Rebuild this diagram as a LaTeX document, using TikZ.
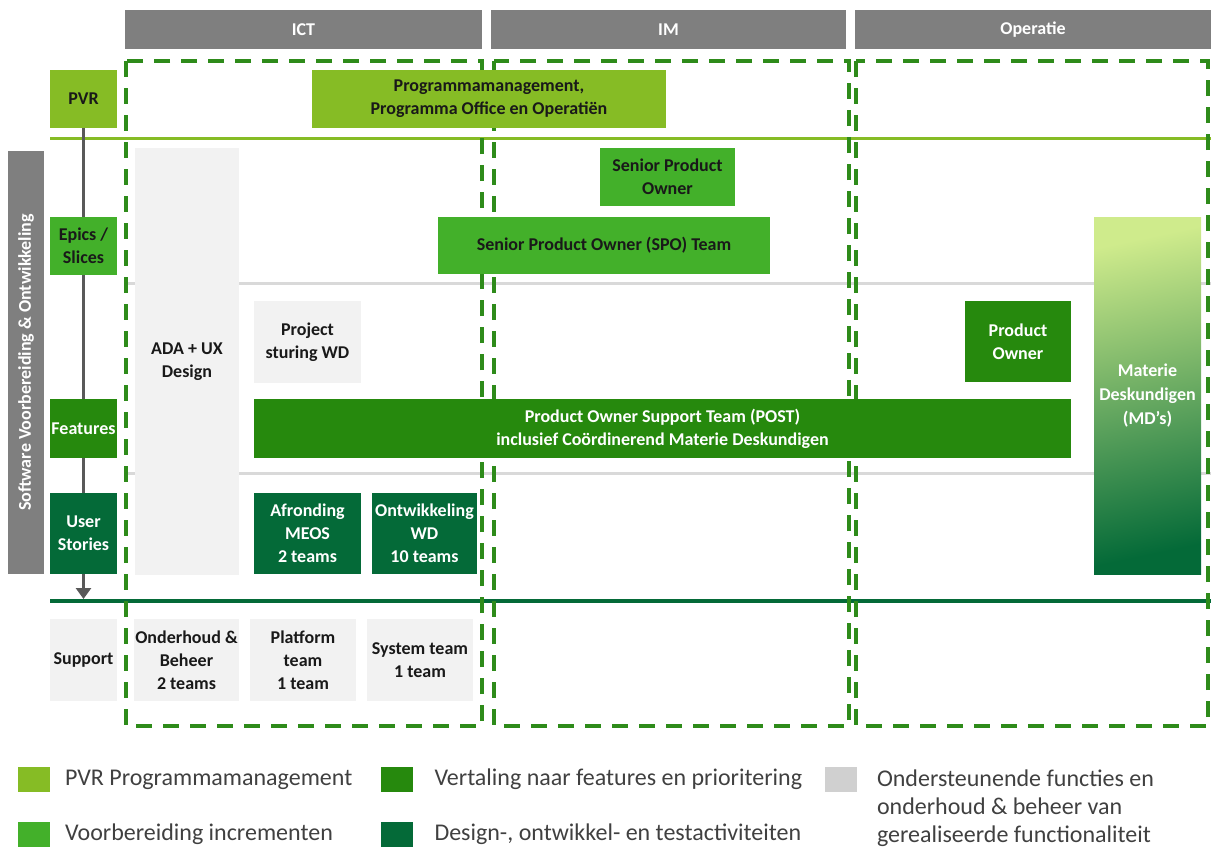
\documentclass[tikz,border=0pt]{standalone}
\usepackage{fontspec}
\setmainfont{Carlito}
\usepackage{xcolor}
\usepackage{tikz}
\usetikzlibrary{shapes,arrows.meta,positioning}

\definecolor{pvrgreen}{HTML}{86BC25}
\definecolor{prepgreen}{HTML}{43B02A}
\definecolor{featgreen}{HTML}{26890D}
\definecolor{devgreen}{HTML}{046A38}
\definecolor{headgray}{HTML}{7F7F7F}
\definecolor{boxgray}{HTML}{F2F2F2}
\definecolor{keygray}{HTML}{D0D0D0}
\definecolor{linegray}{HTML}{D9D9D9}
\definecolor{arrowgray}{HTML}{595959}
\definecolor{dashgreen}{HTML}{2E8B1A}
\definecolor{mdlight}{HTML}{CFEB8C}
\definecolor{mdmid}{HTML}{8CC47A}

\begin{document}
\begin{tikzpicture}[%
      x=1pt, y=-1pt,
      every node/.style={inner sep=0pt, outer sep=0pt, align=center},
      blok/.style={font=\bfseries\fontsize{18}{23}\selectfont, text=black!90},
      kop/.style={blok, fill=headgray, text=white, minimum height=39pt},
      rij/.style={blok, minimum width=67pt},
      grijs/.style={blok, fill=boxgray},
      wit/.style={blok, text=white},
      kader/.style={dashgreen, line width=3.5pt, dash pattern=on 16pt off 11pt},
      pijl/.style={arrowgray, line width=3pt, -{Triangle[length=11pt,width=15pt]}},
      sleutel/.style={minimum width=32pt, minimum height=25pt},
      uitleg/.style={font=\fontsize{24}{28}\selectfont, text=black!75}]
      \useasboundingbox (0,0) rectangle (1211,847);

      % column headers
      \node[kop, minimum width=357pt] (ict) at (303.5,29.5) {ICT};
      \node[kop, minimum width=355pt] (im) at (668.5,29.5) {IM};
      \node[kop, minimum width=356pt] (ops) at (1033,29.5) {Operatie};

      % separators
      \draw[pvrgreen, line width=3pt] (50,138) -- (1211,138);
      \draw[linegray, line width=3pt] (126,283) -- (1211,283);
      \draw[linegray, line width=3pt] (126,473) -- (1211,473);
      \draw[devgreen, line width=3.5pt] (50,601) -- (1211,601);

      % organisation frames
      \draw[kader] (126,61) rectangle (482,726);
      \draw[kader] (494,61) rectangle (849,726);
      \draw[kader] (856,61) rectangle (1208,726);

      % levels
      \node[kop, rotate=90, minimum width=423pt, minimum height=36pt] (zijbalk) at (26,362.5)
        {Software Voorbereiding \& Ontwikkeling};
      \node[rij, fill=pvrgreen, minimum height=58pt] (pvr) at (83.5,99) {PVR};
      \coordinate (pijleind) at (83.5,599);
      \draw[pijl] (pvr.south) -- (pijleind);
      \node[rij, fill=prepgreen, minimum height=58pt] (epics) at (83.5,246) {Epics /\\Slices};
      \node[rij, wit, fill=featgreen, minimum height=59pt] (features) at (83.5,428.5) {Features};
      \node[rij, wit, fill=devgreen, minimum height=81pt] (stories) at (83.5,533.5) {User\\Stories};
      \node[rij, grijs, minimum height=82pt] (support) at (83.5,660) {Support};

      % teams and roles
      \node[blok, fill=pvrgreen, minimum width=354pt, minimum height=58pt] (progmgt) at (489,99)
        {Programmamanagement,\\Programma Office en Operatiën};
      \node[blok, fill=prepgreen, minimum width=135pt, minimum height=58pt] (spo) at (667.5,177)
        {Senior Product\\Owner};
      \node[blok, fill=prepgreen, minimum width=332pt, minimum height=57pt] (spoteam) at (604,245.5)
        {Senior Product Owner (SPO) Team};
      \node[grijs, minimum width=104pt, minimum height=427pt] (ada) at (187,361.5) {ADA + UX\\Design};
      \node[grijs, minimum width=107pt, minimum height=82pt] (sturing) at (307.5,342) {Project\\sturing WD};
      \node[wit, fill=featgreen, minimum width=106pt, minimum height=81pt] (po) at (1018,341.5)
        {Product\\Owner};
      \node[wit, fill=featgreen, minimum width=817pt, minimum height=59pt] (post) at (662.5,428.5)
        {Product Owner Support Team (POST)\\inclusief Coördinerend Materie Deskundigen};
      \node[wit, top color=mdlight, middle color=mdmid, bottom color=devgreen, shading angle=12,
        minimum width=107pt, minimum height=357pt, font=\bfseries\fontsize{18}{24}\selectfont] (md) at (1147.5,396)
        {Materie\\Deskundigen\\(MD’s)};
      \node[wit, fill=devgreen, minimum width=107pt, minimum height=81pt] (meos) at (307.5,533.5)
        {Afronding\\MEOS\\2 teams};
      \node[wit, fill=devgreen, minimum width=105pt, minimum height=81pt] (wd) at (424.5,533.5)
        {Ontwikkeling\\WD\\10 teams};
      \node[grijs, minimum width=105pt, minimum height=82pt] (beheer) at (186.5,660)
        {Onderhoud \&\\Beheer\\2 teams};
      \node[grijs, minimum width=106pt, minimum height=82pt] (platform) at (303,660)
        {Platform\\team\\1 team};
      \node[grijs, minimum width=106pt, minimum height=82pt] (systeem) at (420,660)
        {System team\\1 team};

      % legend
      \node[sleutel, fill=pvrgreen] (k1) at (34,779.5) {};
      \node[uitleg, right=15pt of k1] (t1) {PVR Programmamanagement};
      \node[sleutel, fill=prepgreen] (k2) at (34,834.5) {};
      \node[uitleg, right=15pt of k2] (t2) {Voorbereiding incrementen};
      \node[sleutel, fill=featgreen] (k3) at (396.5,779.5) {};
      \node[uitleg, right=22pt of k3] (t3) {Vertaling naar features en prioritering};
      \node[sleutel, fill=devgreen] (k4) at (396.5,834.5) {};
      \node[uitleg, right=22pt of k4] (t4) {Design-, ontwikkel- en testactiviteiten};
      \node[sleutel, fill=keygray] (k5) at (840.5,779.5) {};
      \node[uitleg, anchor=north west, align=left] (t5) at (877,770)
        {Ondersteunende functies en\\onderhoud \& beheer van\\gerealiseerde functionaliteit};
    \end{tikzpicture}
\end{document}
